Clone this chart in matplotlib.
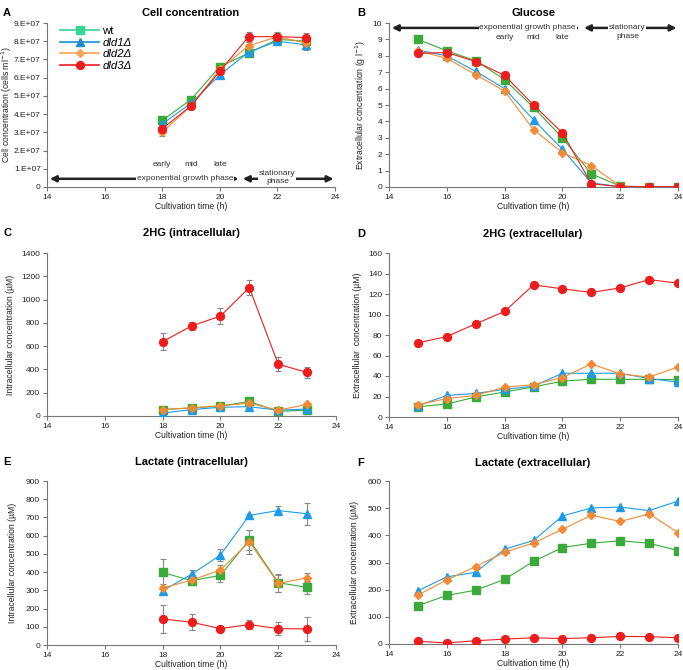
import matplotlib
matplotlib.use("Agg")
import matplotlib.pyplot as plt
from matplotlib.lines import Line2D
from matplotlib.ticker import FuncFormatter

plt.rcParams['font.family'] = ['Liberation Sans', 'DejaVu Sans']

# colours
c_wt = '#3aab3a'
c_d1 = '#1e9be6'
c_d2 = '#f58a34'
c_d3 = '#ee1c1c'
c_err = '#888888'

strains = ['wt', 'dld1', 'dld2', 'dld3']

# time points
t_intra = [18, 19, 20, 21, 22, 23]
t_extra = [15, 16, 17, 18, 19, 20, 21, 22, 23, 24]

# A - cell concentration (cells/ml)
cells_wt = [3.65e7, 4.8e7, 6.6e7, 7.35e7, 8.1e7, 8.0e7]
cells_d1 = [3.45e7, 4.6e7, 6.15e7, 7.4e7, 8.0e7, 7.8e7]
cells_d2 = [3.0e7, 4.45e7, 6.45e7, 7.75e7, 8.25e7, 7.9e7]
cells_d3 = [3.2e7, 4.45e7, 6.35e7, 8.25e7, 8.25e7, 8.2e7]
cells_err_wt = [0.15e7, 0.15e7, 0.15e7, 0.15e7, 0.2e7, 0.2e7]
cells_err_d1 = [0.15e7, 0.15e7, 0.15e7, 0.15e7, 0.2e7, 0.3e7]
cells_err_d2 = [0.2e7, 0.15e7, 0.15e7, 0.2e7, 0.2e7, 0.25e7]
cells_err_d3 = [0.2e7, 0.15e7, 0.15e7, 0.25e7, 0.25e7, 0.25e7]

# B - glucose (g/l)
glc_wt = [9.0, 8.3, 7.7, 6.55, 4.85, 3.0, 0.8, 0.05, 0.02, 0.02]
glc_d1 = [8.35, 8.0, 7.05, 6.0, 4.1, 2.3, 0.25, 0.02, 0.02, 0.02]
glc_d2 = [8.3, 7.85, 6.85, 5.85, 3.5, 2.1, 1.3, 0.05, 0.02, 0.02]
glc_d3 = [8.15, 8.2, 7.65, 6.8, 5.0, 3.3, 0.2, 0.02, 0.02, 0.02]

# C - 2HG intracellular (uM)
hg_in_wt = [55, 70, 85, 125, 40, 50]
hg_in_d1 = [25, 55, 75, 80, 50, 60]
hg_in_d2 = [55, 70, 88, 110, 50, 100]
hg_in_d3 = [639, 773, 858, 1103, 445, 374]
hg_in_err_wt = [10, 10, 10, 15, 10, 10]
hg_in_err_d1 = [10, 10, 10, 10, 10, 10]
hg_in_err_d2 = [15, 10, 15, 15, 10, 15]
hg_in_err_d3 = [74, 36, 71, 68, 58, 46]

# D - 2HG extracellular (uM)
hg_ex_wt = [10, 12.7, 19.5, 24.4, 29.3, 35, 36.8, 36.8, 36.8, 36.5]
hg_ex_d1 = [11, 21, 23, 27, 30, 42.7, 42.7, 42.7, 37.5, 34]
hg_ex_d2 = [12, 18, 21, 29, 31.6, 38.4, 51.8, 42, 39, 48.9]
hg_ex_d3 = [72.3, 78.5, 90.9, 103, 129, 125, 121.5, 126, 134, 130.6]

# E - lactate intracellular (uM)
lac_in_wt = [398, 353, 382, 577, 342, 316]
lac_in_d1 = [298, 388, 494, 711, 738, 720]
lac_in_d2 = [312, 356, 411, 566, 338, 369]
lac_in_d3 = [143, 125, 90, 112, 90, 88]
lac_in_err_wt = [75, 25, 35, 55, 50, 35]
lac_in_err_d1 = [20, 25, 35, 10, 27, 62]
lac_in_err_d2 = [25, 20, 30, 65, 45, 25]
lac_in_err_d3 = [75, 43, 15, 25, 35, 65]

# F - lactate extracellular (uM)
lac_ex_wt = [141, 179, 198, 238, 304, 355, 371, 380, 371, 344]
lac_ex_d1 = [196, 247, 264, 349, 381, 471, 501, 504, 491, 526]
lac_ex_d2 = [180, 236, 285, 338, 372, 422, 474, 451, 479, 410]
lac_ex_d3 = [10, 4, 12, 18, 23, 20, 23, 28, 27, 23]

styles = {
    'wt': dict(color=c_wt, marker='s', ms=5.4),
    'dld1': dict(color=c_d1, marker='^', ms=5.4),
    'dld2': dict(color=c_d2, marker='D', ms=4.4),
    'dld3': dict(color=c_d3, marker='o', ms=5.7),
}

fig = plt.figure(figsize=(6.83, 6.70), dpi=100)

W, H = 683.0, 670.0


def make_axes(x0, x1, y0, y1):
    return fig.add_axes([x0 / W, 1 - y1 / H, (x1 - x0) / W, (y1 - y0) / H])


def style_axes(ax, ymax, ystep, ylabel, ypad=3):
    ax.set_xlim(14, 24)
    ax.set_xticks(range(14, 25, 2))
    ax.set_ylim(0, ymax)
    ax.set_yticks([i * ystep for i in range(int(round(ymax / ystep)) + 1)])
    for s in ['top', 'right']:
        ax.spines[s].set_visible(False)
    for s in ['left', 'bottom']:
        ax.spines[s].set_color('#777777')
        ax.spines[s].set_linewidth(0.8)
    ax.tick_params(axis='both', labelsize=6, colors='#777777', labelcolor='#222222',
                   length=3, width=0.8, direction='out', pad=2)
    ax.set_xlabel('Cultivation time (h)', fontsize=6.2, color='#222222', labelpad=1)
    ax.set_ylabel(ylabel, fontsize=6.2, color='#222222', labelpad=ypad)


def plot_series(ax, t, data, errs=None):
    for name, y, e in zip(strains, data, errs or [None] * 4):
        st = styles[name]
        ax.errorbar(t, y, yerr=e, color=st['color'], marker=st['marker'], ms=st['ms'],
                    lw=0.8, ecolor=c_err, elinewidth=0.8, capsize=2, capthick=0.8,
                    mec=st['color'], zorder=3)


def head(x_center, y_px, letter_x, letter, title):
    fig.text(letter_x / W, 1 - y_px / H, letter, fontsize=8, fontweight='bold',
             va='center', ha='left')
    fig.text(x_center / W, 1 - y_px / H, title, fontsize=8, fontweight='bold',
             va='center', ha='center')


arrow_kw = dict(arrowstyle='<|-|>', color='#222222', lw=1.8, mutation_scale=9,
                shrinkA=0, shrinkB=0)
box_kw = dict(facecolor='white', edgecolor='none', pad=0.5)

# ---- A ----
axA = make_axes(47, 335, 23, 187)
plot_series(axA, t_intra, [cells_wt, cells_d1, cells_d2, cells_d3],
            [cells_err_wt, cells_err_d1, cells_err_d2, cells_err_d3])
style_axes(axA, 9e7, 1e7, 'Cell concentration (cells ml$^{-1}$)', ypad=0)
axA.tick_params(axis='y', pad=1.5)
axA.yaxis.set_major_formatter(FuncFormatter(lambda v, p: '0' if v == 0 else '%d.E+07' % round(v / 1e7)))
axA.annotate('', xy=(14.1, 0.45e7), xytext=(20.65, 0.45e7), arrowprops=arrow_kw)
axA.annotate('', xy=(20.8, 0.45e7), xytext=(23.95, 0.45e7), arrowprops=arrow_kw)
axA.text(18.8, 0.45e7, 'exponential growth phase', fontsize=6, color='#333333',
         ha='center', va='center', bbox=box_kw, zorder=4)
axA.text(22.0, 0.52e7, 'stationary\nphase', fontsize=6, color='#333333', ha='center',
         va='center', bbox=box_kw, zorder=4, linespacing=1.3)
for xx, lab in zip([18, 19, 20], ['early', 'mid', 'late']):
    axA.text(xx, 1.25e7, lab, fontsize=6, color='#333333', ha='center', va='center')
legend_cols = ['#33d694', '#1a8fcf', '#f4a65a', '#ee1c1c']
handles = [Line2D([], [], color=c, marker=styles[n]['marker'], ms=styles[n]['ms'], lw=1.2)
           for c, n in zip(legend_cols, strains)]
leg = axA.legend(handles, ['wt', 'dld1Δ', 'dld2Δ', 'dld3Δ'],
                 loc='upper left', bbox_to_anchor=(0.03, 1.008), frameon=False, fontsize=8.2,
                 handlelength=3.4, handletextpad=0.3, labelspacing=0.13, borderaxespad=0)
for txt in leg.get_texts()[1:]:
    txt.set_fontstyle('italic')
head(191, 13, 3, 'A', 'Cell concentration')

# ---- B ----
axB = make_axes(389, 678, 23, 187)
plot_series(axB, t_extra, [glc_wt, glc_d1, glc_d2, glc_d3])
style_axes(axB, 10, 1, 'Extracellular concentration (g l$^{-1}$)')
axB.annotate('', xy=(14.1, 9.7), xytext=(20.6, 9.7), arrowprops=arrow_kw)
axB.annotate('', xy=(20.75, 9.7), xytext=(23.95, 9.7), arrowprops=arrow_kw)
axB.text(18.8, 9.7, 'exponential growth phase', fontsize=6, color='#333333',
         ha='center', va='center', bbox=box_kw, zorder=4)
axB.text(22.25, 9.45, 'stationary\nphase', fontsize=6, color='#333333', ha='center',
         va='center', bbox=box_kw, zorder=4, linespacing=1.3)
for xx, lab in zip([18, 19, 20], ['early', 'mid', 'late']):
    axB.text(xx, 9.1, lab, fontsize=6, color='#333333', ha='center', va='center')
head(533, 13, 357, 'B', 'Glucose')

# ---- C ----
axC = make_axes(47, 336, 253, 416)
plot_series(axC, t_intra, [hg_in_wt, hg_in_d1, hg_in_d2, hg_in_d3],
            [hg_in_err_wt, hg_in_err_d1, hg_in_err_d2, hg_in_err_d3])
style_axes(axC, 1400, 200, 'Intracellular concentration (µM)', ypad=4)
head(191, 233, 3, 'C', '2HG (intracellular)')

# ---- D ----
axD = make_axes(389, 678, 253, 417)
plot_series(axD, t_extra, [hg_ex_wt, hg_ex_d1, hg_ex_d2, hg_ex_d3])
style_axes(axD, 160, 20, 'Extracellular  concentration (µM)', ypad=4)
head(533, 234, 357, 'D', '2HG (extracellular)')

# ---- E ----
axE = make_axes(47, 336, 481, 645)
plot_series(axE, t_intra, [lac_in_wt, lac_in_d1, lac_in_d2, lac_in_d3],
            [lac_in_err_wt, lac_in_err_d1, lac_in_err_d2, lac_in_err_d3])
style_axes(axE, 900, 100, 'Intracellular concentration (µM)', ypad=6)
head(191, 462, 3, 'E', 'Lactate (intracellular)')

# ---- F ----
axF = make_axes(389, 678, 481, 644)
plot_series(axF, t_extra, [lac_ex_wt, lac_ex_d1, lac_ex_d2, lac_ex_d3])
style_axes(axF, 600, 100, 'Extracellular concentration (µM)', ypad=6)
head(533, 463, 357, 'F', 'Lactate (extracellular)')

fig.savefig('out.png', dpi=100)
